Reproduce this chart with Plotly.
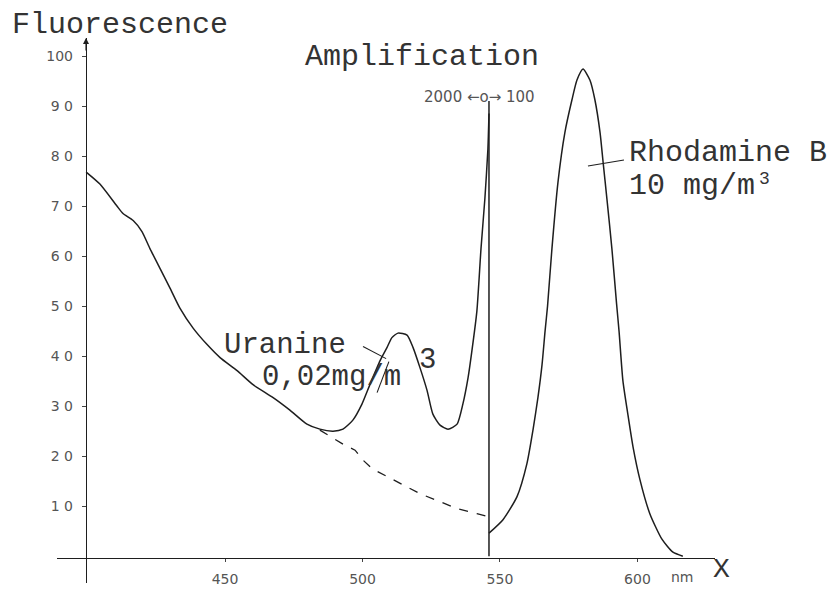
import plotly.graph_objects as go

# Fluorescence spectrum (solid), wavelength in nm
spec_nm = [399.5, 404.5, 410.7, 412.9, 416.6, 419.8, 422.7, 426.4, 430.0, 433.6,
           438.4, 443.5, 448.2, 454.4, 460.2, 467.5, 473.6, 479.8, 484.5, 489.3,
           492.9, 496.5, 499.8, 502.7, 506.4, 508.9, 510.7, 512.9, 516.2, 518.4,
           520.9, 523.5, 525.6, 528.2, 531.1, 534.4, 536.5, 538.4, 539.8, 541.6,
           543.1, 544.5, 545.6, 546.0]
spec_val = [76.8, 74.4, 70.0, 68.5, 67.1, 64.9, 61.5, 57.5, 53.6, 49.6,
            45.6, 42.3, 39.7, 37.1, 34.3, 31.7, 29.2, 26.4, 25.4, 25.0,
            25.4, 27.2, 30.4, 34.3, 39.1, 41.7, 43.7, 44.6, 44.2, 41.7,
            37.7, 33.1, 28.4, 26.2, 25.4, 26.4, 30.4, 35.7, 41.1, 49.0,
            61.5, 71.4, 81.3, 88.5]

# Background without uranine (dashed)
base_nm = [484.5, 487.0, 492.9, 497.3, 500.2, 503.5, 508.9, 514.7, 520.9, 528.2,
           534.4, 541.6, 545.6]
base_val = [25.2, 24.4, 22.4, 21.2, 19.2, 17.5, 15.9, 14.3, 12.5, 10.9,
            9.5, 8.5, 7.9]

# Rhodamine B band after the amplification switch
rhod_nm = [546.0, 551.1, 556.2, 559.8, 562.0, 563.8, 565.3, 566.4, 567.3, 568.9,
           571.1, 573.6, 576.2, 578.0, 580.2, 582.7, 584.5, 586.4, 587.5, 588.9,
           590.7, 592.4, 593.3, 594.7, 596.5, 598.4, 600.9, 604.5, 608.9, 612.9,
           616.5]
rhod_val = [4.6, 7.3, 11.9, 18.5, 25.2, 31.7, 38.3, 45.0, 50.0, 61.5,
            74.8, 84.7, 91.3, 95.2, 97.4, 95.2, 91.3, 84.7, 78.8, 71.4,
            61.5, 50.5, 45.0, 35.1, 28.4, 21.8, 15.3, 8.5, 3.4, 0.8,
            0.0]

# Amplification switch marker
switch_nm = [546.0, 546.0]
switch_val = [0.0, 91.0]

# Label leader lines
rhod_lead_nm = [582.0, 595.1]
rhod_lead_val = [78.0, 79.2]
uran_lead_nm = [500.2, 508.6, None, 509.6, 505.3]
uran_lead_val = [41.9, 39.5, None, 38.9, 32.7]

x_ticks = [450, 500, 550, 600]
y_ticks = [10, 20, 30, 40, 50, 60, 70, 80, 90, 100]
y_ticktext = ["1 0", "2 0", "3 0", "4 0", "5 0", "6 0", "7 0", "8 0", "9 0", "100"]

INK = "#1e1e1e"
TYPE = "Liberation Mono, Courier New, monospace"
LABEL = "DejaVu Sans, sans-serif"

fig = go.Figure()
fig.add_trace(go.Scatter(x=spec_nm, y=spec_val, mode="lines",
                         line=dict(color=INK, width=1.5, shape="spline", smoothing=0.6)))
fig.add_trace(go.Scatter(x=base_nm, y=base_val, mode="lines",
                         line=dict(color=INK, width=1.3, dash="dash")))
fig.add_trace(go.Scatter(x=rhod_nm, y=rhod_val, mode="lines",
                         line=dict(color=INK, width=1.5, shape="spline", smoothing=0.6)))
fig.add_trace(go.Scatter(x=switch_nm, y=switch_val, mode="lines",
                         line=dict(color=INK, width=1.5)))
fig.add_trace(go.Scatter(x=rhod_lead_nm, y=rhod_lead_val, mode="lines",
                         line=dict(color=INK, width=1.1)))
fig.add_trace(go.Scatter(x=uran_lead_nm, y=uran_lead_val, mode="lines",
                         line=dict(color=INK, width=1.1)))

annotations = [
    dict(text="Fluorescence", xref="paper", yref="paper", x=-0.0714, y=1.0237,
         xanchor="left", yanchor="middle", font=dict(family=TYPE, size=30, color="#333")),
    dict(text="Amplification", x=521.6, y=99.8, xanchor="center", yanchor="middle",
         font=dict(family=TYPE, size=30, color="#333")),
    dict(text="2000 \u2190o\u2192 100", x=542.7, y=91.9, xanchor="center", yanchor="middle",
         font=dict(family=LABEL, size=15, color="#555")),
    dict(text="Rhodamine B", x=596.2, y=80.6, xanchor="left", yanchor="middle",
         font=dict(family=TYPE, size=30, color="#333")),
    dict(text="10 mg/m", x=596.2, y=74.0, xanchor="left", yanchor="middle",
         font=dict(family=TYPE, size=30, color="#333")),
    dict(text="3", xref="paper", yref="paper", x=1.064, y=0.742,
         xanchor="left", yanchor="middle", font=dict(family=TYPE, size=18, color="#333")),
    dict(text="Uranine", x=448.9, y=42.1, xanchor="left", yanchor="middle",
         font=dict(family=TYPE, size=29, color="#333")),
    dict(text="0,02mg/m", x=462.7, y=35.7, xanchor="left", yanchor="middle",
         font=dict(family=TYPE, size=29, color="#333")),
    dict(text="3", x=519.8, y=39.1, xanchor="left", yanchor="middle",
         font=dict(family=TYPE, size=29, color="#333")),
    dict(text="nm", x=616.2, y=-4.2, xanchor="center", yanchor="middle",
         font=dict(family=LABEL, size=14, color="#555")),
    dict(text="X", xref="paper", yref="paper", x=1.0106, y=0.0255,
         xanchor="center", yanchor="middle", font=dict(family=TYPE, size=28, color="#333")),
    # arrow tip on the fluorescence axis
    dict(text="", xref="paper", yref="paper", x=0.0441, y=1.0, ax=0, ay=14,
         showarrow=True, arrowhead=2, arrowsize=1, arrowwidth=1.2, arrowcolor=INK),
]
for a in annotations:
    a.setdefault("showarrow", False)
fig.update_layout(annotations=annotations)

fig.update_layout(
    width=834, height=590,
    margin=dict(l=57, r=119, t=38, b=3),
    paper_bgcolor="white", plot_bgcolor="white",
    showlegend=False,
    xaxis=dict(range=[388.9, 628.2], showgrid=False, zeroline=False,
               showline=True, linecolor=INK, linewidth=1.4,
               anchor="free", position=0.0455,
               tickvals=x_ticks, ticks="outside", ticklen=3, tickcolor="#444",
               ticklabelstandoff=5,
               tickfont=dict(family=LABEL, size=14, color="#555")),
    yaxis=dict(range=[-5.36, 103.6], showgrid=False, zeroline=False,
               showline=True, linecolor=INK, linewidth=1.4,
               anchor="free", position=0.0441,
               tickvals=y_ticks, ticktext=y_ticktext,
               ticks="outside", ticklen=4, tickcolor="#444",
               ticklabelstandoff=6,
               tickfont=dict(family=LABEL, size=14, color="#555")),
)

fig.write_html("out.html")
